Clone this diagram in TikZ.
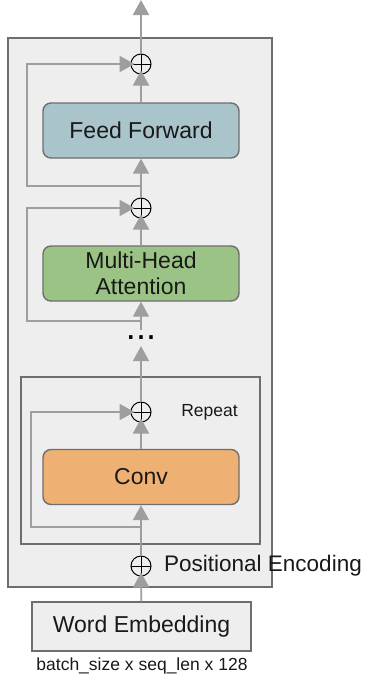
\documentclass[tikz,border=0pt]{standalone}
\usepackage{fontspec}
\setmainfont{Liberation Sans}
\usetikzlibrary{arrows.meta}

\definecolor{ffblue}{HTML}{A9C4CB}
\definecolor{mhagreen}{HTML}{9CC386}
\definecolor{convorange}{HTML}{EEB173}
\definecolor{blockgray}{HTML}{EEEEEE}
\definecolor{edgegray}{HTML}{9E9E9E}
\definecolor{rimgray}{HTML}{6E6E6E}

\tikzset{
	layer/.style={draw=rimgray, line width=1.4pt, rounded corners=8pt, minimum width=196pt,
		minimum height=55pt, align=center, text=black!90, font=\fontsize{23}{26}\selectfont},
	plusnode/.style={circle, draw=black, line width=1pt, minimum size=20pt, inner sep=0pt,
		path picture={\draw[black, line width=1pt]
			(path picture bounding box.north) -- (path picture bounding box.south)
			(path picture bounding box.west) -- (path picture bounding box.east);}},
	arr/.style={draw=edgegray, line width=1.8pt, -{Triangle[length=15pt,width=16pt]}},
	intoplus/.style={arr, shorten >=-4pt},
}

\begin{document}
\begin{tikzpicture}[x=1pt,y=-1pt]
	
	% ---- Adjustable colors ----
	\def\ffColor{ffblue}
	\def\mhaColor{mhagreen}
	\def\convColor{convorange}
	
	\useasboundingbox (0,0) rectangle (366,678);
	
	% ---- Outer block and repeat block ----
	\node[draw=rimgray, fill=blockgray, line width=1.4pt, minimum width=264pt, minimum height=549pt] (encoder) at (140,312.5) {};
	\node[draw=rimgray, line width=1.4pt, minimum width=239pt, minimum height=167pt] (repeatbox) at (140.5,460.5) {};
	
	% ---- Layers ----
	\node[layer, fill=\ffColor] (ff) at (141,130.5) {Feed Forward};
	\node[layer, fill=\mhaColor] (mha) at (141,273.5) {Multi-Head\\Attention};
	\node[layer, fill=\convColor] (conv) at (141,477) {Conv};
	\node[draw=rimgray, fill=blockgray, line width=1.4pt, minimum width=219pt, minimum height=49pt,
		text=black!90, font=\fontsize{23}{26}\selectfont] (we) at (141.5,626.5) {Word Embedding};
	
	% ---- Additions ----
	\foreach \y/\name in {64/p1, 208/p2, 412/p3, 566/p4}
	{
		\node[plusnode] (\name) at (141,\y) {};
	}
	\node[inner xsep=0pt, inner ysep=6pt, font=\fontsize{36}{36}\selectfont] (dots) at (141,338) {...};
	\coordinate (top) at (141,0);
	
	% ---- Labels ----
	\node[text=black!90, font=\fontsize{17.5}{20}\selectfont] (rep) at (209.5,412) {Repeat};
	\node[anchor=west, inner sep=0pt, text=black!90, font=\fontsize{22.5}{26}\selectfont] (pos) at (164,566) {Positional Encoding};
	\node[text=black!90, font=\fontsize{17.5}{20}\selectfont] (shape) at (142,666) {batch\_size x seq\_len x 128};
	
	% ---- Main path ----
	\foreach \a/\b in {ff/p1, mha/p2, conv/p3, we/p4}
	\draw[intoplus] (\a) -- (\b);
	\foreach \a/\b in {p1/top, p2/ff, dots/mha, p3/dots, p4/conv}
	\draw[arr] (\a) -- (\b);
	
	% ---- Residual connections ----
	\coordinate (s1) at (141,186);
	\coordinate (s2) at (141,321);
	\coordinate (s3) at (141,527);
	\draw[intoplus] (s1) -- ++(-114,0) |- (p1);
	\draw[intoplus] (s2) -- ++(-114,0) |- (p2);
	\draw[intoplus] (s3) -- ++(-110,0) |- (p3);
	
\end{tikzpicture}
\end{document}
